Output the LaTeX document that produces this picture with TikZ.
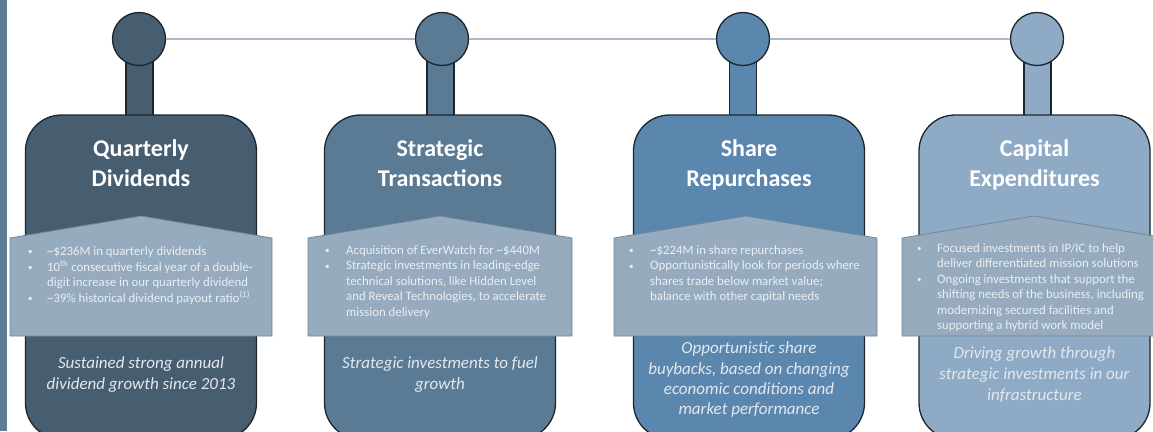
\documentclass[tikz,border=0pt]{standalone}
\usepackage{fontspec}
\setmainfont{Carlito}
\definecolor{outl}{HTML}{1C2630}
\definecolor{pa}{HTML}{475D70}
\definecolor{pb}{HTML}{5B7A94}
\definecolor{pc}{HTML}{5B87AF}
\definecolor{pd}{HTML}{8EAAC5}
\definecolor{bandc}{HTML}{97ABBE}
\definecolor{bandline}{HTML}{6F8699}
\definecolor{bandtext}{HTML}{EAEFF3}
\definecolor{ittext}{HTML}{E2E8EE}
\definecolor{connc}{HTML}{A9B9C7}
\definecolor{strip}{HTML}{5C7C97}
\tikzset{
 outline/.style={draw=outl, line width=1.3pt},
 stembox/.style={rectangle, minimum width=27pt, minimum height=62pt, inner sep=0pt, outline},
 circ/.style={circle, minimum size=53pt, inner sep=0pt, outline},
 bodybox/.style={rectangle, rounded corners=36pt, minimum width=231pt, minimum height=324pt, inner sep=0pt, outline},
 bandshape/.style={fill=bandc, draw=bandline, line width=0.8pt},
 ttl/.style={font=\fontsize{24}{28}\selectfont\bfseries, text=white, anchor=base, inner sep=0pt},
 btxt/.style={font=\fontsize{12.8}{15}\selectfont, text=bandtext, anchor=base west, inner sep=0pt},
 bdot/.style={font=\fontsize{9}{11}\selectfont, text=bandtext, anchor=base west, inner sep=0pt},
 itxt/.style={font=\fontsize{17}{21}\selectfont\itshape, text=ittext, anchor=base, inner sep=0pt},
 conn/.style={draw=connc, line width=1.2pt},
}
\newcommand\mybl[4]{\node[btxt] (#1) at (#2,#3) {#4};}
\newcommand\mybu[3]{\node[bdot] (#1) at (#2,#3-0.5) {\textbullet};}
\newcommand\myit[4]{\node[itxt] (#1) at (#2,#3) {#4};}
\newcommand\myttl[4]{\node[ttl] (#1) at (#2,#3) {#4};}
\newcommand\tl{\textasciitilde}
\begin{document}
\begin{tikzpicture}[x=1pt,y=-1pt]
\useasboundingbox (0,0) rectangle (1153,431);
\clip (0,0) rectangle (1153,431);
\fill[strip] (0,0) rectangle (7,431);
% stems
\node[stembox, fill=pa] (s1) at (139.5,85) {};
\node[stembox, fill=pb] (s2) at (440.5,85) {};
\node[stembox, fill=pc] (s3) at (743,85) {};
\node[stembox, fill=pd] (s4) at (1037.5,85) {};
% circles
\node[circ, fill=pa] (c1) at (139,39) {};
\node[circ, fill=pb] (c2) at (442,39) {};
\node[circ, fill=pc] (c3) at (743,39) {};
\node[circ, fill=pd] (c4) at (1037,39) {};
\draw[conn] (c1) -- (c2);
\draw[conn] (c2) -- (c3);
\draw[conn] (c3) -- (c4);
% bodies
\node[bodybox, fill=pa] (b1) at (141,277) {};
\node[bodybox, fill=pb] (b2) at (440,277) {};
\node[bodybox, fill=pc] (b3) at (749,277) {};
\node[bodybox, fill=pd] (b4) at (1034.5,277) {};
% bands
\draw[bandshape] (10,238) -- (141,216) -- (272,238) -- (272,336) -- (10,336) -- cycle;
\draw[bandshape] (308,238) -- (440,216) -- (572,238) -- (572,336) -- (308,336) -- cycle;
\draw[bandshape] (614,238) -- (746,216) -- (877,238) -- (877,336) -- (614,336) -- cycle;
\draw[bandshape] (902,238) -- (1034,216) -- (1166,238) -- (1166,336) -- (902,336) -- cycle;
% titles
\myttl{t1a}{141}{156}{Quarterly}
\myttl{t1b}{141}{186}{Dividends}
\myttl{t2a}{440}{156}{Strategic}
\myttl{t2b}{440}{186}{Transactions}
\myttl{t3a}{749}{156}{Share}
\myttl{t3b}{749}{186}{Repurchases}
\myttl{t4a}{1034.5}{156}{Capital}
\myttl{t4b}{1034.5}{186}{Expenditures}
% panel 1 bullets
\mybu{u1a}{28}{255}
\mybl{l1a}{47}{255}{\tl\$236M in quarterly dividends}
\mybu{u1b}{28}{271}
\mybl{l1b}{47}{271}{10\textsuperscript{th} consecutive fiscal year of a double-}
\mybl{l1c}{47}{286}{digit increase in our quarterly dividend}
\mybu{u1d}{28}{302}
\mybl{l1d}{47}{302}{\tl39\% historical dividend payout ratio\textsuperscript{(1)}}
% panel 2 bullets
\mybu{u2a}{325}{254}
\mybl{l2a}{346}{254}{Acquisition of EverWatch for \tl\$440M}
\mybu{u2b}{325}{269.5}
\mybl{l2b}{346}{269.5}{Strategic investments in leading-edge}
\mybl{l2c}{346}{285}{technical solutions, like Hidden Level}
\mybl{l2d}{346}{300.5}{and Reveal Technologies, to accelerate}
\mybl{l2e}{346}{316}{mission delivery}
% panel 3 bullets
\mybu{u3a}{629}{254}
\mybl{l3a}{650}{254}{\tl\$224M in share repurchases}
\mybu{u3b}{629}{269.5}
\mybl{l3b}{650}{269.5}{Opportunistically look for periods where}
\mybl{l3c}{650}{285}{shares trade below market value;}
\mybl{l3d}{650}{300.5}{balance with other capital needs}
% panel 4 bullets
\mybu{u4a}{917}{252}
\mybl{l4a}{937}{252}{Focused investments in IP/IC to help}
\mybl{l4b}{937}{267.5}{deliver differentiated mission solutions}
\mybu{u4c}{917}{283}
\mybl{l4c}{937}{283}{Ongoing investments that support the}
\mybl{l4d}{937}{298.5}{shifting needs of the business, including}
\mybl{l4e}{937}{314}{modernizing secured facilities and}
\mybl{l4f}{937}{329.5}{supporting a hybrid work model}
% italic texts
\myit{i1a}{141}{368}{Sustained strong annual}
\myit{i1b}{141}{389}{dividend growth since 2013}
\myit{i2a}{440}{368}{Strategic investments to fuel}
\myit{i2b}{440}{389}{growth}
\myit{i3a}{749}{353}{Opportunistic share}
\myit{i3b}{749}{374}{buybacks, based on changing}
\myit{i3c}{749}{394}{economic conditions and}
\myit{i3d}{749}{414}{market performance}
\myit{i4a}{1034.5}{358}{Driving growth through}
\myit{i4b}{1034.5}{379}{strategic investments in our}
\myit{i4c}{1034.5}{400}{infrastructure}
\end{tikzpicture}
\end{document}
